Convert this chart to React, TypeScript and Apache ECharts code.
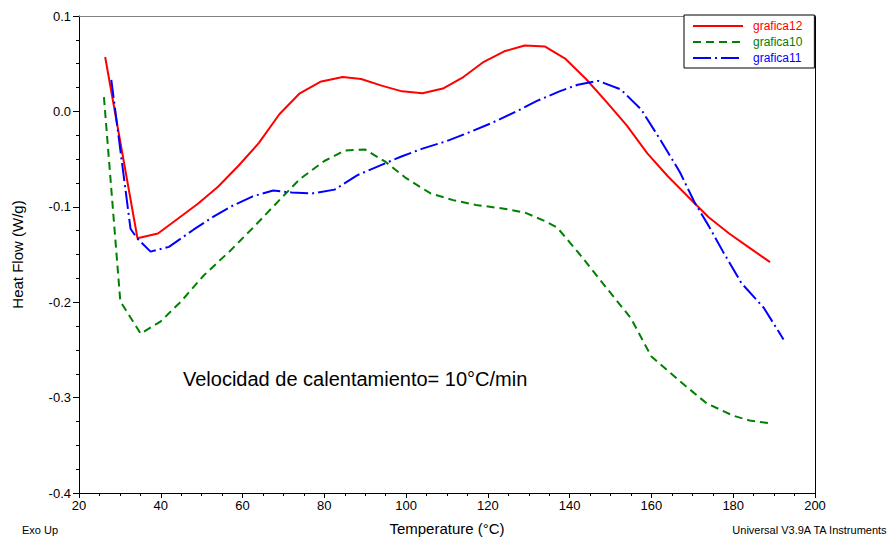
import React, { useEffect, useRef } from "react";
import * as echarts from "echarts";

// Temperature (°C) / Heat Flow (W/g) pairs
const g12T = [26.4, 34.3, 39.3, 44, 49, 54, 59, 64, 69, 74, 79, 84.5, 89, 94, 99, 104, 109, 114, 119, 124, 129, 134, 139, 144, 149, 154, 159, 164, 170, 174, 179, 184, 189];
const g12V = [0.057, -0.133, -0.128, -0.113, -0.097, -0.079, -0.057, -0.033, -0.003, 0.019, 0.031, 0.036, 0.034, 0.027, 0.021, 0.019, 0.024, 0.036, 0.052, 0.063, 0.069, 0.068, 0.055, 0.034, 0.01, -0.015, -0.044, -0.068, -0.094, -0.111, -0.128, -0.143, -0.158];

const g10T = [26.1, 30.1, 35.1, 40, 45, 50.5, 57, 63, 69, 74, 80, 85, 90, 95, 100, 106, 111.5, 117, 124, 129, 134, 137, 142.5, 149, 155, 160, 167, 173.5, 180, 184, 189];
const g10V = [0.015, -0.199, -0.233, -0.22, -0.199, -0.172, -0.146, -0.12, -0.093, -0.071, -0.052, -0.041, -0.04, -0.053, -0.07, -0.086, -0.093, -0.098, -0.102, -0.106, -0.115, -0.122, -0.15, -0.185, -0.217, -0.257, -0.283, -0.306, -0.319, -0.324, -0.327];

const g11T = [27.9, 32.6, 34.2, 37.5, 42, 48, 53, 57.5, 62.5, 67.5, 72, 77, 82.5, 88, 94, 99, 104, 110, 116, 121, 127, 132, 137.5, 142, 147, 152.5, 157.5, 162.5, 167, 170.5, 174, 177.5, 182, 187.5, 192.3];
const g11V = [0.033, -0.123, -0.133, -0.147, -0.142, -0.124, -0.11, -0.099, -0.089, -0.083, -0.085, -0.086, -0.082, -0.067, -0.056, -0.047, -0.039, -0.031, -0.021, -0.012, 0.0, 0.011, 0.021, 0.028, 0.032, 0.023, 0.002, -0.032, -0.064, -0.095, -0.12, -0.147, -0.18, -0.206, -0.239];

const seriesNames = ["grafica12", "grafica10", "grafica11"];
const seriesColors = ["#ff0000", "#008000", "#0000ff"];

const xMin = 20;
const xMax = 200;
const xStep = 20;
const yMin = -0.4;
const yMax = 0.1;
const yStep = 0.1;

const zip = (xs: number[], ys: number[]) => xs.map((x, i) => [x, ys[i]]);

export default function App() {
  const ref = useRef<HTMLDivElement>(null);
  useEffect(() => {
    if (!ref.current) return;
    const chart = echarts.init(ref.current, null, { renderer: "svg" });
    const font = "Arial, 'Liberation Sans', sans-serif";
    chart.setOption({
      animation: false,
      backgroundColor: "#fff",
      grid: { left: 79, right: 79, top: 16, bottom: 45, containLabel: false },
      xAxis: [
        {
          type: "value",
          min: xMin,
          max: xMax,
          interval: xStep,
          position: "bottom",
          name: "Temperature (°C)",
          nameLocation: "middle",
          nameGap: 28,
          nameTextStyle: { fontFamily: font, fontSize: 15, color: "#000" },
          axisLine: { show: true, onZero: false, lineStyle: { color: "#000", width: 1 } },
          splitLine: { show: false },
          axisTick: { show: true, inside: false, length: 5, lineStyle: { color: "#000" } },
          minorTick: { show: true, splitNumber: 4, length: 3, lineStyle: { color: "#000" } },
          axisLabel: { fontFamily: font, fontSize: 13, color: "#000", margin: 6 },
        },
        {
          type: "value",
          min: xMin,
          max: xMax,
          position: "top",
          axisLine: { show: true, onZero: false, lineStyle: { color: "#808080", width: 1 } },
          axisTick: { show: false },
          axisLabel: { show: false },
          splitLine: { show: false },
        },
      ],
      yAxis: [
        {
          type: "value",
          min: yMin,
          max: yMax,
          interval: yStep,
          position: "left",
          name: "Heat Flow (W/g)",
          nameLocation: "middle",
          nameGap: 54,
          nameTextStyle: { fontFamily: font, fontSize: 15, color: "#000" },
          axisLine: { show: true, onZero: false, lineStyle: { color: "#000", width: 1 } },
          splitLine: { show: false },
          axisTick: { show: true, inside: false, length: 6, lineStyle: { color: "#000" } },
          minorTick: { show: true, splitNumber: 4, length: 3, lineStyle: { color: "#000" } },
          axisLabel: {
            fontFamily: font,
            fontSize: 13,
            color: "#000",
            margin: 8,
            formatter: (v: number) => v.toFixed(1),
          },
        },
        {
          type: "value",
          min: yMin,
          max: yMax,
          position: "right",
          axisLine: { show: true, onZero: false, lineStyle: { color: "#000", width: 1 } },
          axisTick: { show: false },
          axisLabel: { show: false },
          splitLine: { show: false },
        },
      ],
      legend: {
        orient: "vertical",
        left: 684,
        top: 15,
        padding: [5, 12, 4, 8],
        itemWidth: 50,
        itemHeight: 12,
        itemGap: 4,
        borderColor: "#000",
        borderWidth: 1,
        borderRadius: 0,
        backgroundColor: "#fff",
        itemStyle: { color: "transparent", borderWidth: 0, opacity: 0 },
        textStyle: { fontFamily: font, fontSize: 12, padding: [0, 0, 0, 5] },
        data: seriesNames.map((n, i) => ({
          name: n,
          textStyle: { color: seriesColors[i], fontFamily: font, fontSize: 12, padding: [0, 0, 0, 5] },
        })),
      },
      graphic: [
        {
          type: "text",
          left: 183,
          top: 369,
          style: {
            text: "Velocidad de calentamiento= 10°C/min",
            font: `20px ${font}`,
            fill: "#000",
          },
        },
        {
          type: "text",
          left: 22,
          top: 524,
          style: { text: "Exo Up", font: `11px ${font}`, fill: "#000" },
        },
        {
          type: "text",
          right: 6,
          top: 524,
          style: { text: "Universal V3.9A TA Instruments", font: `11px ${font}`, fill: "#000" },
        },
      ],
      series: [
        {
          name: seriesNames[0],
          type: "line",
          data: zip(g12T, g12V),
          symbol: "none",
          lineStyle: { color: seriesColors[0], width: 2, type: "solid" },
          itemStyle: { color: seriesColors[0] },
        },
        {
          name: seriesNames[1],
          type: "line",
          data: zip(g10T, g10V),
          symbol: "none",
          lineStyle: { color: seriesColors[1], width: 2, type: [8, 5] },
          itemStyle: { color: seriesColors[1] },
        },
        {
          name: seriesNames[2],
          type: "line",
          data: zip(g11T, g11V),
          symbol: "none",
          lineStyle: { color: seriesColors[2], width: 2, type: [18, 4, 2, 4] },
          itemStyle: { color: seriesColors[2] },
        },
      ],
    });
    return () => chart.dispose();
  }, []);
  return (
    <div
      ref={ref}
      style={{ position: "fixed", left: 0, top: 0, width: 894, height: 541, background: "#fff" }}
    />
  );
}
